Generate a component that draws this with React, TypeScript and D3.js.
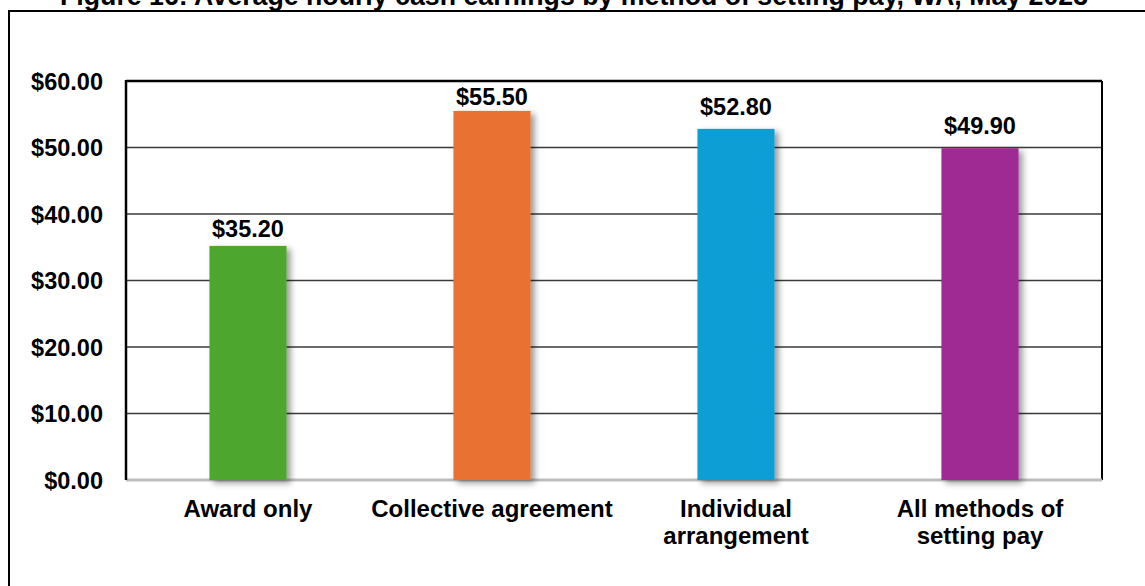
import React from "react";
import * as d3 from "d3";

const categories: string[][] = [
  ["Award only"],
  ["Collective agreement"],
  ["Individual", "arrangement"],
  ["All methods of", "setting pay"],
];
const values: number[] = [35.2, 55.5, 52.8, 49.9];
const barColors: string[] = ["#4EA72E", "#E97132", "#0F9ED5", "#A02B93"];
const yTicks: number[] = [0, 10, 20, 30, 40, 50, 60];
const titleText = "Figure 16: Average hourly cash earnings by method of setting pay, WA, May 2023";

const W = 1145;
const H = 586;
const plot = { left: 126, right: 1102, top: 81, bottom: 480 };
const labelGap = [9, 6, 14, 14];
const FONT = "'Liberation Sans', Arial, Helvetica, sans-serif";

export default function App() {
  const x = d3
    .scaleBand<number>()
    .domain(values.map((_, i) => i))
    .range([plot.left, plot.right])
    .paddingInner(0.684)
    .paddingOuter(0.342);
  const y = d3.scaleLinear().domain([0, 60]).range([plot.bottom, plot.top]);
  const fmt = (v: number) => "$" + d3.format(".2f")(v);

  return (
    <svg
      width={W}
      height={H}
      style={{ position: "absolute", left: 0, top: 0, background: "#fff" }}
      fontFamily={FONT}
    >
      <defs>
        <filter id="shadow" x="-20%" y="-5%" width="150%" height="115%">
          <feDropShadow dx="4" dy="3" stdDeviation="3" floodColor="#000" floodOpacity="0.4" />
        </filter>
      </defs>
      <rect x={0} y={0} width={W} height={H} fill="#fff" />
      {/* outer frame */}
      <rect x={9} y={11} width={W + 20} height={H + 20} fill="none" stroke="#000" strokeWidth={2} />
      {/* title */}
      <text
        x={574}
        y={5}
        textAnchor="middle"
        fontSize={27}
        fontWeight="bold"
        fontFamily="'Liberation Sans Narrow', 'Arial Narrow', 'Liberation Sans', Arial, sans-serif"
        textLength={1028}
        lengthAdjust="spacingAndGlyphs"
      >
        {titleText}
      </text>
      {/* gridlines */}
      {yTicks
        .filter((t) => t !== 0 && t !== 60)
        .map((t) => (
          <line
            key={t}
            x1={plot.left}
            x2={plot.right}
            y1={y(t)}
            y2={y(t)}
            stroke="#3a3a3a"
            strokeWidth={1.5}
          />
        ))}
      {/* plot border top/right */}
      <line x1={plot.left} x2={plot.right} y1={y(60)} y2={y(60)} stroke="#000" strokeWidth={2.5} />
      <line x1={plot.right} x2={plot.right} y1={y(60)} y2={plot.bottom} stroke="#000" strokeWidth={2} />
      {/* bottom axis line */}
      <line x1={plot.left} x2={plot.right} y1={plot.bottom} y2={plot.bottom} stroke="#bdbdbd" strokeWidth={3} />
      {/* bars */}
      {values.map((v, i) => (
        <rect
          key={i}
          x={x(i)}
          y={y(v)}
          width={x.bandwidth()}
          height={y(0) - y(v)}
          fill={barColors[i]}
          filter="url(#shadow)"
        />
      ))}
      {/* left axis */}
      <line x1={plot.left} x2={plot.left} y1={y(60) - 1} y2={plot.bottom} stroke="#000" strokeWidth={2.5} />
      {/* value labels */}
      {values.map((v, i) => (
        <text
          key={i}
          x={(x(i) as number) + x.bandwidth() / 2}
          y={y(v) - labelGap[i]}
          textAnchor="middle"
          fontSize={23.5}
          fontWeight="bold"
        >
          {fmt(v)}
        </text>
      ))}
      {/* y tick labels */}
      {yTicks.map((t) => (
        <text key={t} x={103} y={y(t) + 8.5} textAnchor="end" fontSize={23.5} fontWeight="bold">
          {fmt(t)}
        </text>
      ))}
      {/* x labels */}
      {categories.map((lines, i) => (
        <text
          key={i}
          x={(x(i) as number) + x.bandwidth() / 2}
          y={517}
          textAnchor="middle"
          fontSize={24}
          fontWeight="bold"
        >
          {lines.map((l, j) => (
            <tspan key={j} x={(x(i) as number) + x.bandwidth() / 2} dy={j === 0 ? 0 : 26.5}>
              {l}
            </tspan>
          ))}
        </text>
      ))}
    </svg>
  );
}
